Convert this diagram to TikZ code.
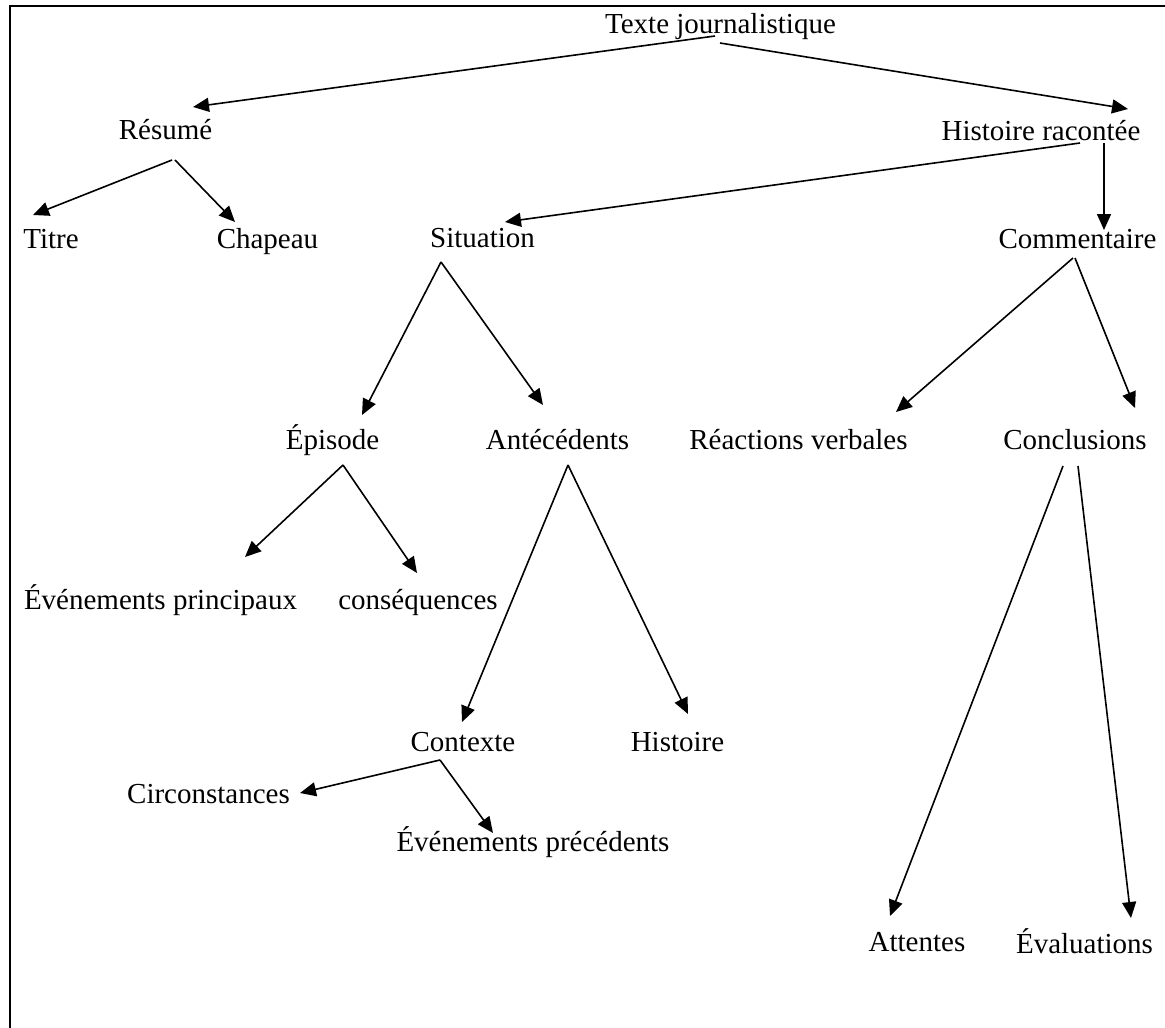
\documentclass[tikz,border=0pt]{standalone}
\usepackage{fontspec}
\setmainfont{Liberation Serif}
\usetikzlibrary{arrows.meta}
\begin{document}
\begin{tikzpicture}[x=1pt,y=-1pt,
  lbl/.style={anchor=base,inner sep=0pt,font=\fontsize{29}{33}\selectfont},
  arr/.style={line width=1.6pt,-{Triangle[length=16pt,width=14pt]}},
  frame/.style={line width=2.2pt}]
\useasboundingbox (0,0) rectangle (1165,1028);
\draw[frame] (10,1028) -- (10,6) -- (1165,6);
\node[lbl] (tj) at (720.5,33) {Texte journalistique};
\node[lbl] (res) at (165.5,139) {Résumé};
\node[lbl] (hist) at (1041,140) {Histoire racontée};
\node[lbl] (titre) at (51,248) {Titre};
\node[lbl] (chap) at (267.5,248) {Chapeau};
\node[lbl] (sit) at (482.5,247) {Situation};
\node[lbl] (comm) at (1077.5,248) {Commentaire};
\node[lbl] (epi) at (332.5,449) {Épisode};
\node[lbl] (ant) at (557.5,449) {Antécédents};
\node[lbl] (reac) at (798.5,449) {Réactions verbales};
\node[lbl] (concl) at (1075,449) {Conclusions};
\node[lbl] (evp) at (160.5,609) {Événements principaux};
\node[lbl] (cons) at (418,609) {conséquences};
\node[lbl] (ctx) at (463,751) {Contexte};
\node[lbl] (histo) at (677.5,751) {Histoire};
\node[lbl] (circ) at (208.5,803) {Circonstances};
\node[lbl] (evprec) at (533,851) {Événements précédents};
\node[lbl] (att) at (917,951) {Attentes};
\node[lbl] (eval) at (1084.5,953) {Évaluations};
\draw[arr] ([shift={(-5.5,3)}]tj.base) -- ([shift={(27.5,-32)}]res.base);
\draw[arr] ([shift={(-0.5,10)}]tj.base) -- ([shift={(87,-31)}]hist.base);
\draw[arr] ([shift={(6.5,21)}]res.base) -- ([shift={(-18,-33)}]titre.base);
\draw[arr] ([shift={(9.5,21)}]res.base) -- ([shift={(-32.5,-26)}]chap.base);
\draw[arr] ([shift={(39,3)}]hist.base) -- ([shift={(22.5,-25)}]sit.base);
\draw[arr] ([shift={(63,3)}]hist.base) -- ([shift={(26.5,-18)}]comm.base);
\draw[arr] ([shift={(-41.5,15)}]sit.base) -- ([shift={(29.5,-34)}]epi.base);
\draw[arr] ([shift={(-41.5,15)}]sit.base) -- ([shift={(-14.5,-44)}]ant.base);
\draw[arr] ([shift={(-4.5,10)}]comm.base) -- ([shift={(97.5,-37)}]reac.base);
\draw[arr] ([shift={(-2.5,10)}]comm.base) -- ([shift={(60,-41)}]concl.base);
\draw[arr] ([shift={(10.5,16)}]epi.base) -- ([shift={(84.5,-52)}]evp.base);
\draw[arr] ([shift={(10.5,16)}]epi.base) -- ([shift={(-1,-36)}]cons.base);
\draw[arr] ([shift={(10.5,16)}]ant.base) -- ([shift={(-1,-29)}]ctx.base);
\draw[arr] ([shift={(10.5,16)}]ant.base) -- ([shift={(10.5,-37)}]histo.base);
\draw[arr] ([shift={(-23,9)}]ctx.base) -- ([shift={(91.5,-10)}]circ.base);
\draw[arr] ([shift={(-23,9)}]ctx.base) -- ([shift={(-40,-18)}]evprec.base);
\draw[arr] ([shift={(-12,17)}]concl.base) -- ([shift={(-27,-35)}]att.base);
\draw[arr] ([shift={(3,17)}]concl.base) -- ([shift={(46.5,-35)}]eval.base);
\end{tikzpicture}
\end{document}
